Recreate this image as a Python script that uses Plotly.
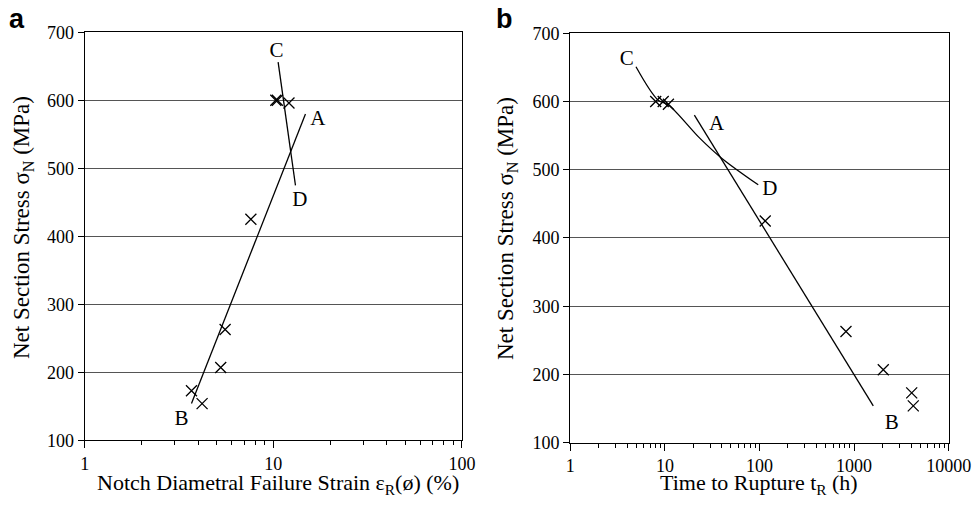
import plotly.graph_objects as go

# ---- data ----
stress = [600, 600, 596, 425, 263, 207, 173, 154]
strain_pct = [10.3, 10.5, 12.1, 7.6, 5.55, 5.26, 3.68, 4.19]
rupture_h = [8.0, 9.6, 10.9, 115, 821, 2036, 4064, 4225]

# fitted lines (panel a)
a_AB_x = [3.68, 14.8]
a_AB_y = [154, 580]
a_CD_x = [10.6, 13.1]
a_CD_y = [656, 475]
# fitted lines (panel b)
b_AB_x = [20.5, 1596]
b_AB_y = [580, 154]
b_CD_x = [4.95, 8.5, 10.9, 23.5, 39.8, 97]
b_CD_y = [651, 602, 595, 546, 517, 478]

# line labels
a_lab_txt = ["A", "B", "C", "D"]
a_lab_x = [17.2, 3.26, 10.4, 13.8]
a_lab_y = [572, 130, 671, 452]
b_lab_txt = ["A", "B", "C", "D"]
b_lab_x = [35.3, 2497, 3.95, 129]
b_lab_y = [566, 128, 661, 470]

y_ticks = [100, 200, 300, 400, 500, 600, 700]
xa_ticks = [1, 10, 100]
xa_labels = ["1", "10", "100"]
xb_ticks = [1, 10, 100, 1000, 10000]
xb_labels = ["1", "10", "100", "1000", "10000"]

SERIF = "Liberation Serif"
fig = go.Figure()

line_style = dict(color="black", width=1.3)
mk = dict(symbol="x-thin", size=11, line=dict(color="black", width=1.3), color="black")

# panel a
fig.add_trace(go.Scatter(x=a_AB_x, y=a_AB_y, mode="lines", line=line_style, xaxis="x", yaxis="y"))
fig.add_trace(go.Scatter(x=a_CD_x, y=a_CD_y, mode="lines", line=line_style, xaxis="x", yaxis="y"))
fig.add_trace(go.Scatter(x=strain_pct, y=stress, mode="markers", marker=mk, xaxis="x", yaxis="y"))
fig.add_trace(go.Scatter(x=a_lab_x, y=a_lab_y, mode="text", text=a_lab_txt,
                         textfont=dict(family=SERIF, size=21, color="black"), xaxis="x", yaxis="y"))
# panel b
fig.add_trace(go.Scatter(x=b_AB_x, y=b_AB_y, mode="lines", line=line_style, xaxis="x2", yaxis="y2"))
fig.add_trace(go.Scatter(x=b_CD_x, y=b_CD_y, mode="lines", line=dict(color="black", width=1.3, shape="spline"),
                         xaxis="x2", yaxis="y2"))
fig.add_trace(go.Scatter(x=rupture_h, y=stress, mode="markers", marker=mk, xaxis="x2", yaxis="y2"))
fig.add_trace(go.Scatter(x=b_lab_x, y=b_lab_y, mode="text", text=b_lab_txt,
                         textfont=dict(family=SERIF, size=21, color="black"), xaxis="x2", yaxis="y2"))

tickfont = dict(family=SERIF, size=18, color="black")
xcommon = dict(type="log", showgrid=False, zeroline=False, showline=True, linecolor="black",
               linewidth=1.3, mirror=True, ticks="outside", ticklen=7, tickcolor="black", tickwidth=1,
               tickfont=tickfont, automargin=False,
               minor=dict(ticks="outside", ticklen=4, tickcolor="black", tickwidth=1, dtick="D1", showgrid=False))
ycommon = dict(range=[100, 700], tickvals=y_ticks, showgrid=True, gridcolor="#555555", gridwidth=1,
               zeroline=False, showline=True, linecolor="black", linewidth=1.3, mirror=True,
               ticks="outside", ticklen=6, tickcolor="black", tickwidth=1, tickfont=tickfont, automargin=False)

fig.update_layout(
    template="none",
    width=974, height=506, margin=dict(l=0, r=0, t=0, b=0, pad=0),
    paper_bgcolor="white", plot_bgcolor="white", showlegend=False,
    font=dict(family=SERIF, size=18, color="black"),
    xaxis=dict(domain=[0.087, 0.4743], range=[0, 2], anchor="y", tickvals=xa_ticks, ticktext=xa_labels, **xcommon),
    yaxis=dict(domain=[0.1298, 0.9362], anchor="x", **ycommon),
    xaxis2=dict(domain=[0.5855, 0.974], range=[0, 4], anchor="y2", tickvals=xb_ticks, ticktext=xb_labels, **xcommon),
    yaxis2=dict(domain=[0.1251, 0.9342], anchor="x2", **ycommon),
)

tfont = dict(family=SERIF, size=22, color="black")
yfont = dict(family=SERIF, size=23, color="black")
ann = []
ann.append(dict(text="Notch Diametral Failure Strain ε<sub>R</sub>(ø) (%)", x=278 / 974, y=(506 - 484) / 506,
                xanchor="center", yanchor="middle", xref="paper", yref="paper", showarrow=False, font=tfont))
ann.append(dict(text="Time to Rupture t<sub>R</sub> (h)", x=(0.5855 + 0.974) / 2, y=(506 - 484) / 506,
                xanchor="center", yanchor="middle", xref="paper", yref="paper", showarrow=False, font=tfont))
ann.append(dict(text="Net Section Stress σ<sub>N</sub> (MPa)", x=23 / 974, y=(506 - 228) / 506, textangle=-90,
                xanchor="center", yanchor="middle", xref="paper", yref="paper", showarrow=False, font=yfont))
ann.append(dict(text="Net Section Stress σ<sub>N</sub> (MPa)", x=507 / 974, y=(506 - 229) / 506, textangle=-90,
                xanchor="center", yanchor="middle", xref="paper", yref="paper", showarrow=False, font=yfont))
ann.append(dict(text="<b>a</b>", x=17 / 974, y=(506 - 19) / 506, xanchor="center", yanchor="middle",
                xref="paper", yref="paper", showarrow=False,
                font=dict(family="Liberation Sans", size=27, color="black")))
ann.append(dict(text="<b>b</b>", x=504 / 974, y=(506 - 19) / 506, xanchor="center", yanchor="middle",
                xref="paper", yref="paper", showarrow=False,
                font=dict(family="Liberation Sans", size=27, color="black")))
fig.update_layout(annotations=ann)

fig.write_html("out.html")
